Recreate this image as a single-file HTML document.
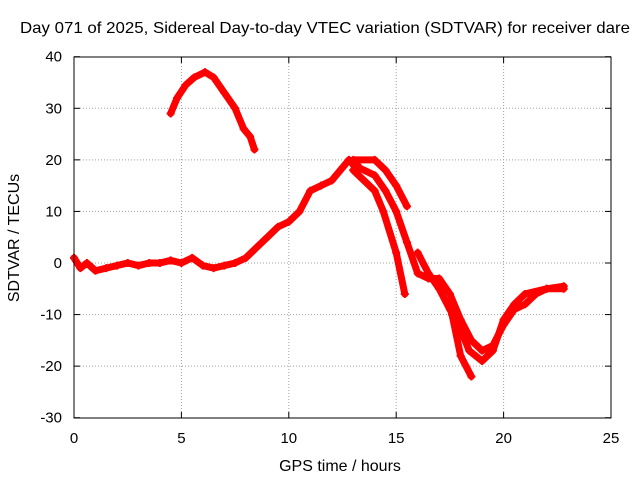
<!DOCTYPE html>
<html><head><meta charset="utf-8"><style>
body{margin:0;background:#fff}
svg text{font-family:"Liberation Sans",sans-serif;font-size:15px;fill:#000}
</style></head><body>
<svg id="chart" width="640" height="480">
<rect x="0" y="0" width="640" height="480" fill="#fff"/>
<text x="325" y="33" text-anchor="middle" textLength="610" lengthAdjust="spacingAndGlyphs" style="font-size:16px">Day 071 of 2025, Sidereal Day-to-day VTEC variation (SDTVAR) for receiver dare</text>
<text x="340" y="471" text-anchor="middle" style="font-size:16px">GPS time / hours</text>
<text x="19" y="238" text-anchor="middle" style="font-size:16px" transform="rotate(-90 19 238)">SDTVAR / TECUs</text>
<g id="grid"></g><g id="axes"></g><g id="series"></g>
<rect x="74" y="57" width="537" height="361" fill="none" stroke="#000" stroke-width="1"/>
</svg>
<script>
const xTicks=[0,5,10,15,20,25];
const yTicks=[40,30,20,10,0,-10,-20,-30];
const trackArc=[[4.5,29],[4.8,32],[5.2,34.5],[5.6,36],[6.1,37],[6.5,36],[7,33],[7.5,30],[7.9,26],[8.2,24.5],[8.4,22]];
const trackMain=[[0,1],[0.3,-1],[0.6,0],[1,-1.5],[1.5,-1],[2,-0.5],[2.5,0],[3,-0.5],[3.5,0],[4,0],[4.5,0.5],[5,0],[5.5,1],[6,-0.5],[6.5,-1],[7,-0.5],[7.5,0],[8,1],[8.5,3],[9,5],[9.5,7],[10,8],[10.5,10],[11,14],[11.5,15],[12,16],[12.5,18.5],[12.8,20],[13.2,19]];
const track1=[[13,20],[14,20],[14.5,18],[15,15],[15.5,11]];
const track2=[[13,19],[14,17],[14.5,14],[15,10],[15.5,4],[16,-2],[16.5,-3],[17,-3],[17.5,-6],[18,-11],[18.5,-15],[19,-17],[19.5,-16],[20,-12],[20.5,-9],[21,-8],[21.5,-6],[22,-5],[22.8,-5]];
const track3=[[13,18],[14,14],[14.4,10],[15,2],[15.4,-6]];
const track4=[[16,2],[16.5,-2],[17,-5],[17.5,-9],[18,-13],[18.4,-17],[19,-19],[19.5,-17],[20,-11],[20.5,-8],[21,-6],[22,-5],[22.8,-4.5]];
const track5=[[17.6,-10],[18,-18],[18.5,-22]];
const tracks=[trackArc,trackMain,track1,track2,track3,track4,track5];
const NS="http://www.w3.org/2000/svg";
const X=v=>74+v*537/25, Y=v=>263-v*361/70;
const grid=document.getElementById('grid'),axes=document.getElementById('axes'),ser=document.getElementById('series');
function mk(t,a,p){const e=document.createElementNS(NS,t);for(const k in a)e.setAttribute(k,a[k]);p.appendChild(e);return e;}
xTicks.forEach(v=>{
 if(v>0&&v<25){const g=mk('line',{x1:X(v),x2:X(v),y1:57,y2:418,stroke:'#a0a0a0','stroke-dasharray':'1,2'},grid);
 
 }
 const t=mk('text',{x:X(v),y:443,'text-anchor':'middle'},axes);t.textContent=v;
 
 
 mk('line',{x1:X(v),x2:X(v),y1:418,y2:412,stroke:'#000'},axes);mk('line',{x1:X(v),x2:X(v),y1:57,y2:63,stroke:'#000'},axes);
});
yTicks.forEach(v=>{
 if(v<40&&v>-30){const g=mk('line',{x1:74,x2:611,y1:Y(v),y2:Y(v),stroke:'#a0a0a0','stroke-dasharray':'1,2'},grid);
 
 }
 const t=mk('text',{x:62,y:Y(v)+5,'text-anchor':'end'},axes);t.textContent=v;
 
 
 mk('line',{x1:74,x2:80,y1:Y(v),y2:Y(v),stroke:'#000'},axes);mk('line',{x1:611,x2:605,y1:Y(v),y2:Y(v),stroke:'#000'},axes);
});
tracks.forEach(tr=>{
 const p=mk('polyline',{points:tr.map(d=>X(d[0])+','+Y(d[1])).join(' '),fill:'none',stroke:'#f00','stroke-width':7,'stroke-linejoin':'round','stroke-linecap':'round'},ser);
 
 
 tr.forEach(d=>{
  const m=mk('path',{d:`M${X(d[0])-4},${Y(d[1])}h8M${X(d[0])},${Y(d[1])-4}v8`,stroke:'#f00','stroke-width':2},ser);
  
  
 });
});
</script>
</body></html>
